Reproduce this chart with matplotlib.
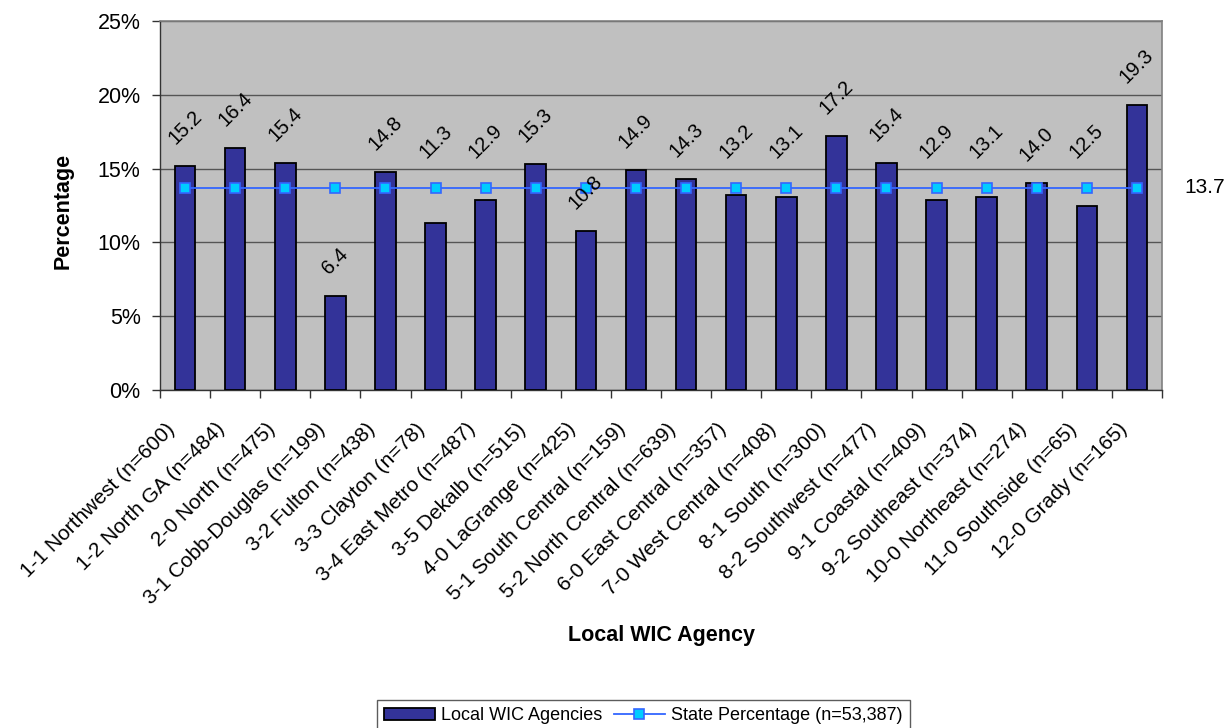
import matplotlib
matplotlib.use("Agg")
import matplotlib.pyplot as plt
from matplotlib.ticker import FuncFormatter, MultipleLocator
from matplotlib.transforms import ScaledTranslation
import numpy as np

plt.rcParams['font.family'] = ['Liberation Sans', 'DejaVu Sans']

agencies = [
    "1-1 Northwest (n=600)", "1-2 North GA (n=484)", "2-0 North (n=475)",
    "3-1 Cobb-Douglas (n=199)", "3-2 Fulton (n=438)", "3-3 Clayton (n=78)",
    "3-4 East Metro (n=487)", "3-5 Dekalb (n=515)", "4-0 LaGrange (n=425)",
    "5-1 South Central (n=159)", "5-2 North Central (n=639)",
    "6-0 East Central (n=357)", "7-0 West Central (n=408)", "8-1 South (n=300)",
    "8-2 Southwest (n=477)", "9-1 Coastal (n=409)", "9-2 Southeast (n=374)",
    "10-0 Northeast (n=274)", "11-0 Southside (n=65)", "12-0 Grady (n=165)",
]
local_pct = [15.2, 16.4, 15.4, 6.4, 14.8, 11.3, 12.9, 15.3, 10.8, 14.9,
             14.3, 13.2, 13.1, 17.2, 15.4, 12.9, 13.1, 14.0, 12.5, 19.3]
state_pct = 13.7

# bars whose value label sits above the state line instead of the bar top
labels_above_line = {5, 6, 11, 12, 15, 16, 18}

W, H = 12.31, 7.28
fig = plt.figure(figsize=(W, H), dpi=100)
ax = fig.add_axes([160 / 1231, 1 - 390 / 728, 1002 / 1231, 369 / 728])
ax.set_facecolor('#C0C0C0')

x = np.arange(len(agencies))
bars = ax.bar(x, local_pct, width=0.41, color='#333399', edgecolor='black',
              linewidth=1.3, zorder=3, label='Local WIC Agencies')
state_line = [state_pct] * len(agencies)
line, = ax.plot(x, state_line, color='#3366FF', linewidth=1.3, marker='s',
                markersize=7.5, markerfacecolor='#00CCFF',
                markeredgecolor='#3366FF', markeredgewidth=1.2, zorder=4,
                label='State Percentage (n=53,387)')

for i, (xi, v) in enumerate(zip(x, local_pct)):
    if i in labels_above_line:
        anchor_y, dy = state_pct, 19
    else:
        anchor_y, dy = v, 13
    ax.annotate(f"{v:.1f}", xy=(xi, anchor_y), xytext=(0, dy),
                textcoords='offset points', ha='center', va='bottom',
                rotation=45, fontsize=14.5, zorder=5)

ax.annotate(f"{state_pct:.1f}", xy=(x[-1], state_pct), xytext=(34, 0),
            textcoords='offset points', ha='left', va='center', fontsize=15,
            annotation_clip=False)

ax.set_xlim(-0.5, len(agencies) - 0.5)
ax.set_ylim(0, 25)
ax.yaxis.set_major_locator(MultipleLocator(5))
ax.yaxis.set_major_formatter(FuncFormatter(lambda v, p: f"{v:.0f}%"))
ax.grid(axis='y', color='#555555', linewidth=1.0, zorder=1)
ax.set_axisbelow(True)

ax.set_xticks(x)
ax.set_xticklabels(agencies, rotation=45, ha='right', va='center',
                   rotation_mode='anchor', fontsize=15)
ax.tick_params(axis='x', length=0, pad=26)
shift = ScaledTranslation(-13 / 100, 0, fig.dpi_scale_trans)
for lbl in ax.get_xticklabels():
    lbl.set_transform(lbl.get_transform() + shift)
ax.set_xticks(np.arange(-0.5, len(agencies), 1.0), minor=True)
ax.tick_params(axis='x', which='minor', length=6, width=1, color='#333333',
               direction='out')
ax.tick_params(axis='y', length=6, width=1, color='#333333', labelsize=15.5,
               pad=8)

for side in ['left', 'bottom']:
    ax.spines[side].set_color('#333333')
    ax.spines[side].set_linewidth(1.0)
for side in ['top', 'right']:
    ax.spines[side].set_color('#808080')
    ax.spines[side].set_linewidth(1.2)

fig.text(63 / 1231, 1 - 211 / 728, 'Percentage', rotation=90, ha='center',
         va='center', fontsize=15.5, fontweight='bold')
fig.text(661 / 1231, 1 - 636 / 728, 'Local WIC Agency', ha='center',
         va='center', fontsize=15.5, fontweight='bold')

leg = fig.legend(handles=[bars, line], loc='upper left',
                 bbox_to_anchor=(377 / 1231, 1 - 700 / 728), ncol=2,
                 fontsize=13, frameon=True, fancybox=False, edgecolor='#333333',
                 handlelength=2.8, handletextpad=0.35, columnspacing=0.65,
                 borderpad=0.4, borderaxespad=0)
leg.get_frame().set_linewidth(1.0)

fig.savefig('out.png', dpi=100, facecolor='white')
